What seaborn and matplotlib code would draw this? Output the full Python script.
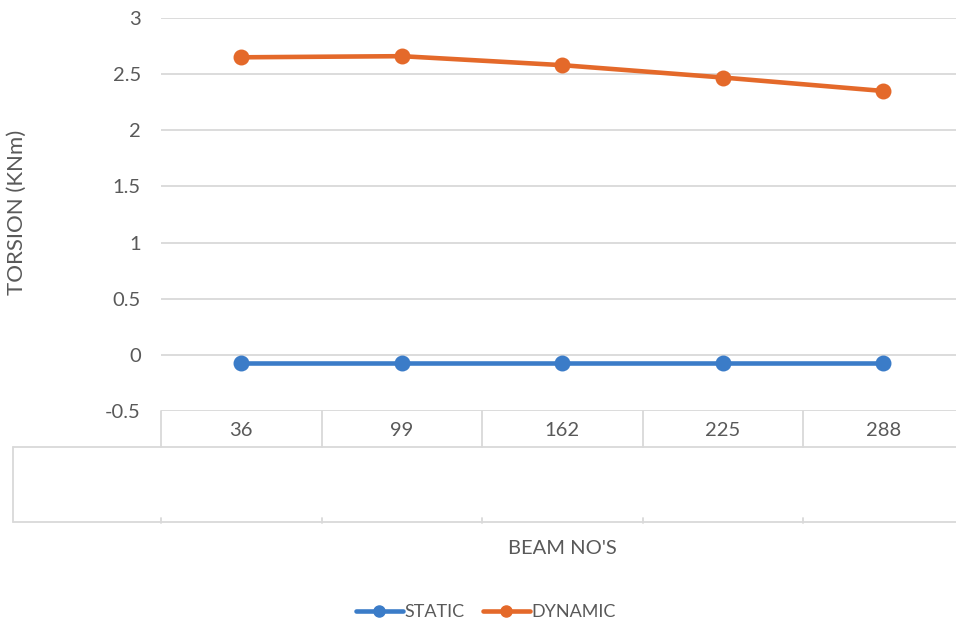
import matplotlib
matplotlib.use("Agg")
import matplotlib.pyplot as plt
import matplotlib.transforms as mtransforms
from matplotlib.lines import Line2D
import seaborn as sns
import pandas as pd

# Torsion in beams, static vs dynamic analysis
beams = ["36", "99", "162", "225", "288"]
static = [-0.07, -0.07, -0.07, -0.07, -0.07]
dynamic = [2.65, 2.66, 2.58, 2.47, 2.35]
series_names = ["STATIC", "DYNAMIC"]
colors = ["#3b7cc8", "#e4692a"]
yticks = [-0.5, 0, 0.5, 1, 1.5, 2, 2.5, 3]

df = pd.DataFrame({
    "beam": beams * 2,
    "torsion": static + dynamic,
    "series": [series_names[0]] * len(beams) + [series_names[1]] * len(beams),
})

sns.set_theme(style="white")
plt.rcParams["font.family"] = ["Lato", "DejaVu Sans"]
TXT = "#595959"
GRID = "#d9d9d9"

W, H = 956, 625
fig = plt.figure(figsize=(W / 100, H / 100), dpi=100)


def fx(px):
    return px / W


def fy(py):
    return 1 - py / H


left, right, top, bottom = 161, 963.5, 18, 411
ax = fig.add_axes([fx(left), fy(bottom), fx(right - left), fy(top) - fy(bottom)])

for y in yticks:
    ax.axhline(y, color=GRID, lw=1.3, zorder=0)

sns.pointplot(data=df, x="beam", y="torsion", hue="series", order=beams,
              hue_order=series_names, palette=colors, markers="o",
              linestyles="-", ax=ax, legend=False, errorbar=None,
              markersize=9, linewidth=3.3)

ax.set_xlim(-0.5, len(beams) - 0.5)
ax.set_ylim(-0.5, 3)
ax.set_yticks(yticks)
ax.set_yticklabels([f"{v:g}" for v in yticks], color=TXT, fontsize=14.5)
ax.tick_params(axis="y", length=0, pad=14.5)
ax.set_xticks(range(len(beams)))
ax.set_xticklabels(beams, color=TXT, fontsize=14.5)
ax.tick_params(axis="x", length=0, pad=8)
for s in ax.spines.values():
    s.set_visible(False)
ax.set_xlabel("")
ax.set_ylabel("")

# category table below the plot
blend = mtransforms.blended_transform_factory(ax.transData, fig.transFigure)
for i in range(len(beams) + 1):
    xb = i - 0.5
    ax.add_line(Line2D([xb, xb], [fy(411), fy(447)], transform=blend,
                       color=GRID, lw=1.3, clip_on=False))
    ax.add_line(Line2D([xb, xb], [fy(518), fy(523)], transform=blend,
                       color=GRID, lw=1.3, clip_on=False))
fig.add_artist(Line2D([fx(13), fx(970)], [fy(447), fy(447)], color=GRID, lw=1.3))
fig.add_artist(Line2D([fx(13), fx(970)], [fy(522), fy(522)], color=GRID, lw=1.3))
fig.add_artist(Line2D([fx(13), fx(13)], [fy(447), fy(522)], color=GRID, lw=1.3))

fig.text(fx(17), fy(212), "TORSION (KNm)", rotation=90, ha="center", va="center",
         color=TXT, fontsize=16)
fig.text(fx(562), fy(548), "BEAM NO'S", ha="center", va="center", color=TXT, fontsize=14.5)

handles = [Line2D([], [], color=c, lw=3.3, marker="o", markersize=8) for c in colors]
fig.legend(handles, series_names, loc="center", bbox_to_anchor=(fx(486), fy(612)),
           ncol=2, frameon=False, fontsize=13, labelcolor=TXT, handlelength=2.6,
           handletextpad=0.1, columnspacing=1.0)

fig.savefig("out.png", dpi=100)
